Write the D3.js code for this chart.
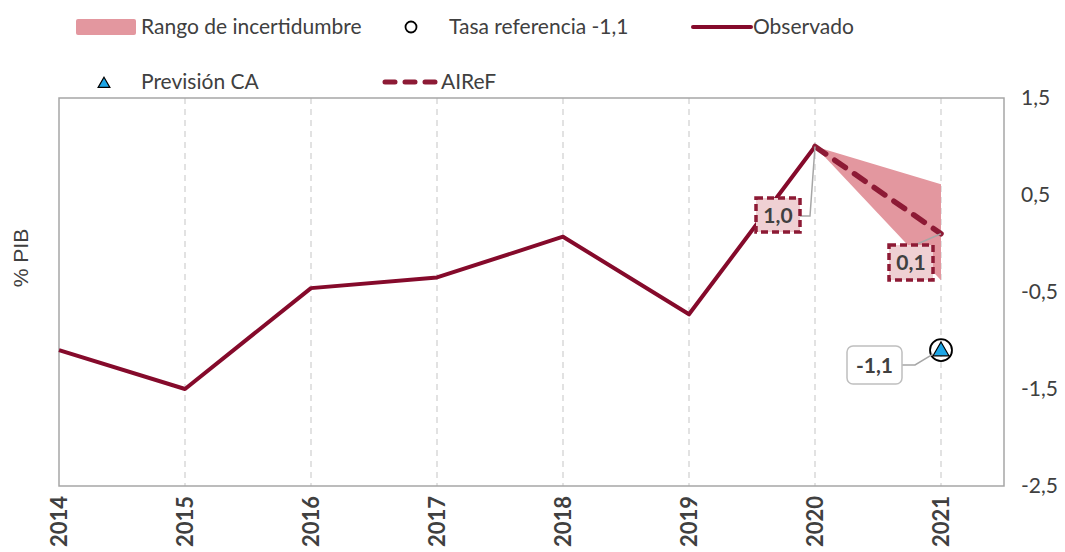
<!DOCTYPE html>
<html>
<head>
<meta charset="utf-8">
<script src="https://cdn.jsdelivr.net/npm/d3@7"></script>
<style>
  body { margin: 0; background: #fff; }
  svg { font-family: Lato, "Open Sans", sans-serif; }
</style>
</head>
<body>
<div id="chart"></div>
<script>
// chart data
const years = [2014, 2015, 2016, 2017, 2018, 2019, 2020, 2021];
const observed = [-1.1, -1.5, -0.46, -0.35, 0.07, -0.73, 1.0];
const airefYears = [2020, 2021];
const airefValues = [1.0, 0.1];
const rangeLow = [1.0, -0.38];
const rangeHigh = [1.0, 0.61];
const refRate = -1.1;
const caForecast = -1.1;
const yTicks = [1.5, 0.5, -0.5, -1.5, -2.5];

const W = 1065, H = 552;
const margin = {top: 98, right: 61, bottom: 66, left: 59};
const width = W - margin.left - margin.right;
const height = H - margin.top - margin.bottom;

const darkRed = "#850a2b";
const dashRed = "#8d1a35";
const pink = "#e3979f";
const textCol = "#404040";

const svg = d3.select("#chart").append("svg")
    .attr("width", W)
    .attr("height", H);

const g = svg.append("g")
    .attr("transform", `translate(${margin.left},${margin.top})`);

// scales
const x = d3.scaleLinear().domain([2014, 2021.5]).range([0, width]);
const y = d3.scaleLinear().domain([-2.5, 1.5]).range([height, 0]);

// vertical dashed grid
g.append("g").selectAll("line")
    .data(years.slice(1))
    .join("line")
    .attr("x1", d => x(d)).attr("x2", d => x(d))
    .attr("y1", 0).attr("y2", height)
    .attr("stroke", "#d9d9d9")
    .attr("stroke-width", 1.5)
    .attr("stroke-dasharray", "6,5");

// frame
g.append("rect")
    .attr("width", width).attr("height", height)
    .attr("fill", "none")
    .attr("stroke", "#a6a6a6")
    .attr("stroke-width", 1.5);

function fmt(v) { return d3.format(".1f")(v).replace(".", ",").replace("−", "-"); }

// y axis on the right
const yAxis = d3.axisRight(y).tickValues(yTicks).tickSize(0).tickPadding(17)
    .tickFormat(fmt);
g.append("g")
    .attr("transform", `translate(${width},0)`)
    .call(yAxis)
    .call(s => s.select(".domain").remove())
    .selectAll("text")
    .attr("font-size", 21)
    .attr("font-family", "Lato, sans-serif")
    .attr("fill", textCol);

// x axis labels rotated
const xAxis = d3.axisBottom(x).tickValues(years).tickSize(0).tickFormat(d3.format("d"));
g.append("g")
    .attr("transform", `translate(0,${height})`)
    .call(xAxis)
    .call(s => s.select(".domain").remove())
    .selectAll("text")
    .attr("font-size", 22)
    .attr("font-weight", "bold")
    .attr("font-family", "Lato, sans-serif")
    .attr("fill", textCol)
    .attr("text-anchor", "end")
    .attr("transform", "rotate(-90)")
    .attr("x", -10)
    .attr("y", 0)
    .attr("dy", "0.35em");

// y axis title
svg.append("text")
    .attr("transform", `translate(28,258) rotate(-90)`)
    .attr("text-anchor", "middle")
    .attr("font-family", "Liberation Sans, Arial, sans-serif")
    .attr("font-size", 21)
    .attr("fill", textCol)
    .text("% PIB");

// uncertainty band
const area = d3.area()
    .x((d, i) => x(airefYears[i]))
    .y0((d, i) => y(rangeLow[i]))
    .y1((d, i) => y(rangeHigh[i]));
g.append("path")
    .datum(airefYears)
    .attr("d", area)
    .attr("fill", pink);

// observed line
const line = d3.line()
    .x((d, i) => x(years[i]))
    .y(d => y(d));
g.append("path")
    .datum(observed)
    .attr("d", line)
    .attr("fill", "none")
    .attr("stroke", darkRed)
    .attr("stroke-width", 4)
    .attr("stroke-linejoin", "round");

// AIReF dashed forecast
const fLine = d3.line()
    .x((d, i) => x(airefYears[i]))
    .y(d => y(d));
g.append("path")
    .datum(airefValues)
    .attr("d", fLine)
    .attr("fill", "none")
    .attr("stroke", dashRed)
    .attr("stroke-width", 5.5)
    .attr("stroke-linecap", "round")
    .attr("stroke-dasharray", "13,11");

// CA forecast triangle and reference circle
const tri = d3.symbol().type(d3.symbolTriangle).size(110);
g.append("path")
    .attr("d", tri)
    .attr("transform", `translate(${x(2021)},${y(caForecast) + 1})`)
    .attr("fill", "#1ea6e6")
    .attr("stroke", "#000")
    .attr("stroke-width", 1.2);
g.append("circle")
    .attr("cx", x(2021)).attr("cy", y(refRate))
    .attr("r", 11)
    .attr("fill", "none")
    .attr("stroke", "#000")
    .attr("stroke-width", 1.8);

// data labels
function label(bx, by, bw, bh, text, kind, path) {
    g.append("path")
        .attr("d", path)
        .attr("fill", "none")
        .attr("stroke", "#a6a6a6")
        .attr("stroke-width", 1.5);
    g.append("rect")
        .attr("x", bx).attr("y", by)
        .attr("width", bw).attr("height", bh)
        .attr("rx", kind === "dash" ? 0 : 6)
        .attr("fill", kind === "dash" ? "#efd0d3" : "#fff")
        .attr("stroke", kind === "dash" ? dashRed : "#bfbfbf")
        .attr("stroke-width", kind === "dash" ? 3.5 : 1.5)
        .attr("stroke-dasharray", kind === "dash" ? "7,4" : null);
    g.append("text")
        .attr("x", bx + bw / 2).attr("y", by + bh / 2)
        .attr("dy", "0.36em")
        .attr("text-anchor", "middle")
        .attr("font-size", 21)
        .attr("font-weight", "bold")
        .attr("fill", textCol)
        .text(text);
}

const p20 = [x(2020), y(airefValues[0])];
label(697, 100, 44, 34, fmt(airefValues[0]), "dash",
    `M741,118H751L${p20[0]},${p20[1]}`);
const p21 = [x(2021), y(airefValues[1])];
label(830, 147, 44, 35, fmt(airefValues[1]), "dash",
    `M856,147L${p21[0]},${p21[1]}`);
const pca = [x(2021), y(caForecast)];
label(788, 248, 55, 38, fmt(caForecast), "box",
    `M843,267H856L${pca[0] - 8},${pca[1] + 4}`);

// legend
const leg = svg.append("g").attr("font-size", 21).attr("fill", textCol);
leg.append("rect").attr("x", 76).attr("y", 19).attr("width", 60).attr("height", 16)
    .attr("fill", pink).attr("rx", 2);
leg.append("text").attr("x", 141).attr("y", 27).attr("dy", "0.35em").attr("fill", textCol)
    .text("Rango de incertidumbre");
leg.append("circle").attr("cx", 411).attr("cy", 27).attr("r", 5.5)
    .attr("fill", "none").attr("stroke", "#000").attr("stroke-width", 1.8);
leg.append("text").attr("x", 449).attr("y", 27).attr("dy", "0.35em").attr("fill", textCol)
    .text("Tasa referencia -1,1");
leg.append("line").attr("x1", 693).attr("x2", 751).attr("y1", 27).attr("y2", 27)
    .attr("stroke", darkRed).attr("stroke-width", 4).attr("stroke-linecap", "round");
leg.append("text").attr("x", 753).attr("y", 27).attr("dy", "0.35em").attr("fill", textCol)
    .text("Observado");
leg.append("path").attr("d", d3.symbol().type(d3.symbolTriangle).size(60))
    .attr("transform", "translate(104,84)")
    .attr("fill", "#1ea6e6").attr("stroke", "#000").attr("stroke-width", 1.2);
leg.append("text").attr("x", 141).attr("y", 82).attr("dy", "0.35em").attr("fill", textCol)
    .text("Previsión CA");
leg.append("line").attr("x1", 385).attr("x2", 440).attr("y1", 82).attr("y2", 82)
    .attr("stroke", dashRed).attr("stroke-width", 5).attr("stroke-linecap", "round")
    .attr("stroke-dasharray", "10,10");
leg.append("text").attr("x", 441).attr("y", 82).attr("dy", "0.35em").attr("fill", textCol)
    .text("AIReF");
</script>
</body>
</html>
